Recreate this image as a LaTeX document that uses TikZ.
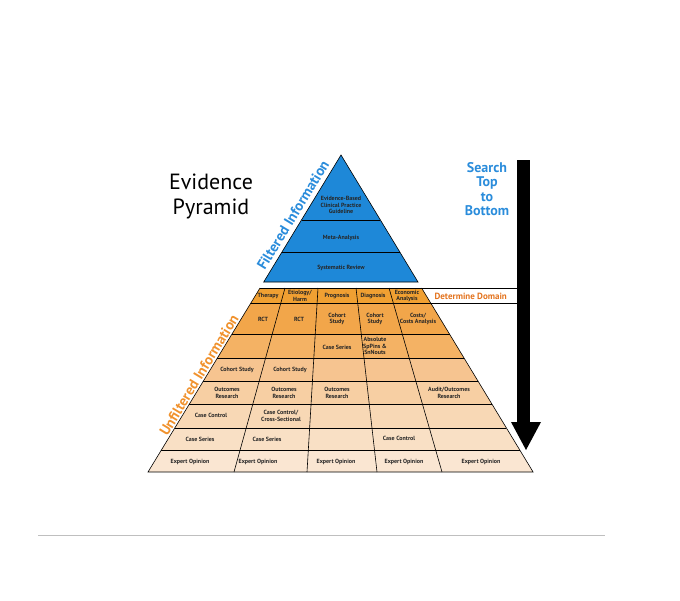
\documentclass[tikz,border=0pt]{standalone}
\usepackage{fontspec}
\setmainfont{PT Sans}
\begin{document}
\begin{tikzpicture}[x=1pt,y=-1pt,
  cell/.style={font=\fontsize{6}{6.3}\selectfont\bfseries,align=center,inner sep=0pt,text=black!85},
  grid/.style={draw=black,line width=0.6pt},
  side/.style={font=\fontsize{14.5}{14.5}\selectfont\bfseries,rotate=58.7,inner sep=0pt}]
\useasboundingbox (0,0) rectangle (680,600);
\definecolor{pblue}{HTML}{1E88D8}
\definecolor{tblue}{HTML}{2A8CDB}
\definecolor{dorange}{HTML}{E3731E}
\definecolor{sorange}{HTML}{F0922E}
% blue triangle
\fill[pblue] (341,155) -- (418.0,282) -- (263.7,282) -- cycle;
\draw[grid] (341,155) -- (418.0,282) -- (263.7,282) -- cycle;
\draw[grid] (301.5,220) -- (380.4,220);
\draw[grid] (282.0,252) -- (399.8,252);
% orange rows
\fill[color={rgb,255:red,240;green,160;blue,50}] (260.0,288)--(421.6,288)--(430.7,303)--(250.9,303)--cycle;
\fill[color={rgb,255:red,242;green,166;blue,74}] (250.9,303)--(430.7,303)--(449.5,334)--(232.0,334)--cycle;
\fill[color={rgb,255:red,244;green,178;blue,100}] (232.0,334)--(449.5,334)--(464.0,358)--(217.4,358)--cycle;
\fill[color={rgb,255:red,246;green,196;blue,144}] (217.4,358)--(464.0,358)--(478.0,381)--(203.4,381)--cycle;
\fill[color={rgb,255:red,247;green,207;blue,163}] (203.4,381)--(478.0,381)--(491.9,404)--(189.4,404)--cycle;
\fill[color={rgb,255:red,248;green,216;blue,181}] (189.4,404)--(491.9,404)--(506.4,428)--(174.7,428)--cycle;
\fill[color={rgb,255:red,249;green,224;blue,197}] (174.7,428)--(506.4,428)--(519.8,450)--(161.3,450)--cycle;
\fill[color={rgb,255:red,250;green,230;blue,210}] (161.3,450)--(519.8,450)--(533.1,472)--(148.0,472)--cycle;
% outline and row lines
\draw[grid] (260.0,288)--(148.0,472)--(533.1,472)--(421.6,288);
\draw[grid] (260.0,288)--(517,288);
\draw[grid] (250.9,303)--(517,303);
\draw[grid] (232.0,334)--(449.5,334);
\draw[grid] (217.4,358)--(464.0,358);
\draw[grid] (203.4,381)--(478.0,381);
\draw[grid] (189.4,404)--(491.9,404);
\draw[grid] (174.7,428)--(506.4,428);
\draw[grid] (161.3,450)--(519.8,450);
% column dividers
\draw[grid] (285,288)--(234,472);
\draw[grid] (318,288)--(307,472);
\draw[grid] (356,288)--(377,472);
\draw[grid] (389,288)--(442,472);
% arrow
\fill[black] (517,160) rectangle (530,422);
\fill[black] (511,422)--(541,422)--(526,450)--cycle;
% titles
\node[font=\fontsize{22}{25}\selectfont,align=center] (title) at (211,196) {Evidence\\Pyramid};
\node[font=\fontsize{14}{14.5}\selectfont\bfseries,text=tblue,align=center] (search) at (487,189) {Search\\Top\\to\\Bottom};
\node[font=\fontsize{9}{10}\selectfont\bfseries,text=dorange,anchor=west] (dom) at (431,296) {Determine Domain};
\node[side,text=tblue] (filt) at (293,215) {Filtered Information};
\node[side,text=sorange] (unf) at (199,375) {Unfiltered Information};
% blue texts
\node[cell] (b1) at (341,205) {Evidence-Based\\Clinical Practice\\Guideline};
\node[cell] (b2) at (341,238) {Meta-Analysis};
\node[cell] (b3) at (341,268) {Systematic Review};
% cells
\node[cell] (d1) at (268,296) {Therapy};
\node[cell] (d2) at (300,296) {Etiology/\\Harm};
\node[cell] (d3) at (337,296) {Prognosis};
\node[cell] (d4) at (373,296) {Diagnosis};
\node[cell] (d5) at (407,296) {Economic\\Analysis};
\node[cell] (r1) at (263,319) {RCT};
\node[cell] (r2) at (299,319) {RCT};
\node[cell] (r3) at (337,319) {Cohort\\Study};
\node[cell] (r4) at (375,319) {Cohort\\Study};
\node[cell] (r5) at (418,319) {Costs/\\Costs Analysis};
\node[cell] (s3) at (337,347) {Case Series};
\node[cell] (s4) at (375,346) {Absolute\\SpPins \&\\SnNouts};
\node[cell] (t1) at (237,370) {Cohort Study};
\node[cell] (t2) at (290,370) {Cohort Study};
\node[cell] (o1) at (227,393) {Outcomes\\Research};
\node[cell] (o2) at (284,393) {Outcomes\\Research};
\node[cell] (o3) at (337,393) {Outcomes\\Research};
\node[cell] (o5) at (449,393) {Audit/Outcomes\\Research};
\node[cell] (c1) at (211,415) {Case Control};
\node[cell] (c2) at (281,416) {Case Control/\\Cross-Sectional};
\node[cell] (e1) at (200,439) {Case Series};
\node[cell] (e2) at (267,439) {Case Series};
\node[cell] (e4) at (399,438) {Case Control};
\node[cell] (x1) at (190,462) {Expert Opinion};
\node[cell] (x2) at (258,462) {Expert Opinion};
\node[cell] (x3) at (336,462) {Expert Opinion};
\node[cell] (x4) at (404,462) {Expert Opinion};
\node[cell] (x5) at (481,462) {Expert Opinion};
% bottom rule
\draw[black!25,line width=0.6pt] (38,535)--(605,535);
\end{tikzpicture}
\end{document}
